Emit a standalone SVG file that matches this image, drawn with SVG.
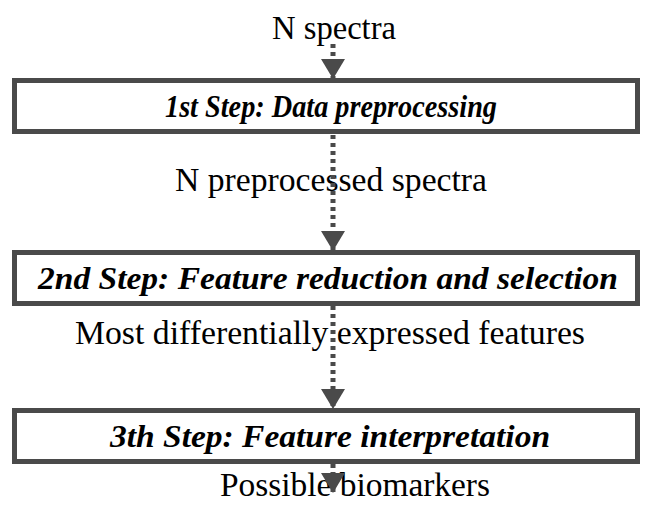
<svg xmlns="http://www.w3.org/2000/svg" width="655" height="506" viewBox="0 0 655 506">
<defs>
<marker id="ah" markerWidth="20" markerHeight="24" refX="20" refY="12" orient="auto" markerUnits="userSpaceOnUse" viewBox="0 0 20 24">
<path d="M0,0 L20,12 L0,24 Z" fill="#4a4a4a"/>
</marker>
<style>
text{font-family:'Liberation Serif','Times New Roman',Times,serif;fill:#000;text-anchor:middle}
.box{fill:#fff;stroke:#4a4a4a;stroke-width:5}
.step{font-weight:bold;font-style:italic;font-size:32px}
.lbl{font-size:33px}
.con{stroke:#4a4a4a;stroke-width:5;stroke-dasharray:4,4;fill:none}
</style>
</defs>
<rect width="655" height="506" fill="#fff"/>
<g id="labels">
<text class="lbl" x="334" y="39" textLength="124" lengthAdjust="spacingAndGlyphs">N spectra</text>
<text class="lbl" x="331" y="191" textLength="312" lengthAdjust="spacingAndGlyphs">N preprocessed spectra</text>
<text class="lbl" x="330" y="344" textLength="510" lengthAdjust="spacingAndGlyphs">Most differentially expressed features</text>
<text class="lbl" x="355" y="496" textLength="270" lengthAdjust="spacingAndGlyphs">Possible biomarkers</text>
</g>
<g id="connectors">
<line class="con" x1="333" y1="44" x2="333" y2="79" marker-end="url(#ah)"/>
<line class="con" x1="333" y1="135" x2="333" y2="251" marker-end="url(#ah)"/>
<line class="con" x1="333" y1="306" x2="333" y2="409" marker-end="url(#ah)"/>
<line class="con" x1="333" y1="464" x2="333" y2="493" marker-end="url(#ah)"/>
</g>
<g id="step1">
<rect class="box" x="14.5" y="80.5" width="623" height="51"/>
<text class="step" x="331" y="117" textLength="332" lengthAdjust="spacingAndGlyphs">1st Step: Data preprocessing</text>
</g>
<g id="step2">
<rect class="box" x="14.5" y="252.5" width="623" height="51"/>
<text class="step" x="328" y="289" textLength="580" lengthAdjust="spacingAndGlyphs">2nd Step: Feature reduction and selection</text>
</g>
<g id="step3">
<rect class="box" x="14.5" y="410.5" width="623" height="51"/>
<text class="step" x="330" y="447" textLength="440" lengthAdjust="spacingAndGlyphs">3th Step: Feature interpretation</text>
</g>
</svg>
